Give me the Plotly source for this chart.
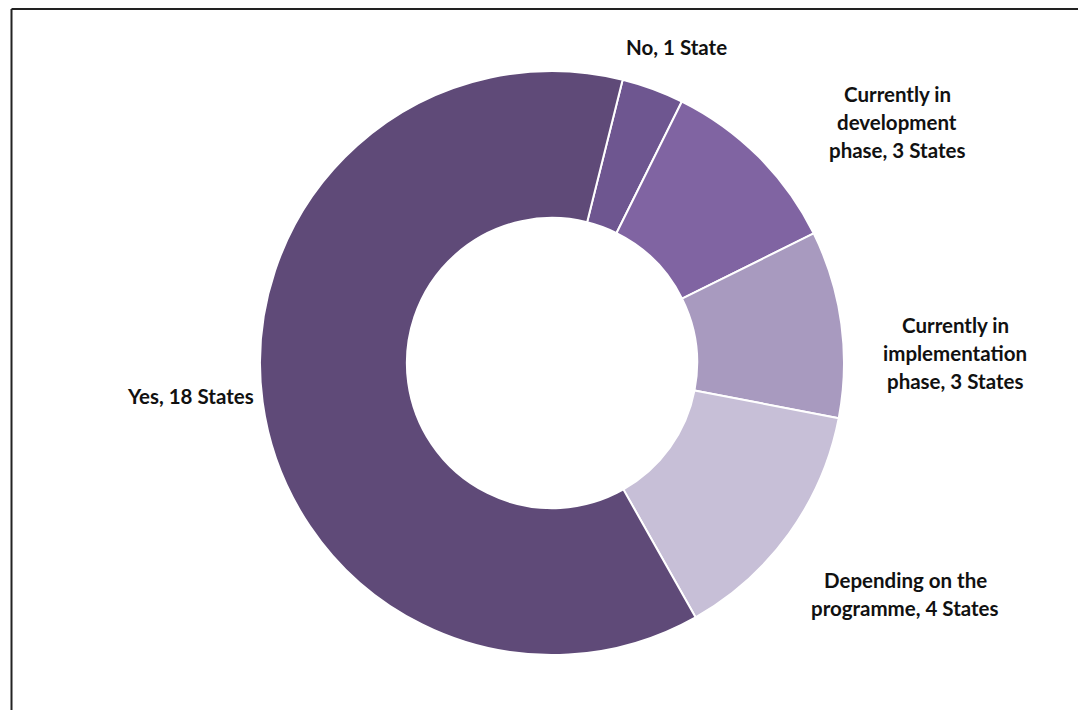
import plotly.graph_objects as go

# Survey responses by number of States
categories = [
    "No, 1 State",
    "Currently in development phase, 3 States",
    "Currently in implementation phase, 3 States",
    "Depending on the programme, 4 States",
    "Yes, 18 States",
]
states = [1, 3, 3, 4, 18]
label_lines = [
    ["No, 1 State"],
    ["Currently in", "development", "phase, 3 States"],
    ["Currently in", "implementation", "phase, 3 States"],
    ["Depending on the", "programme, 4 States"],
    ["Yes, 18 States"],
]
colors = ["#6E5690", "#8064A2", "#A89ABF", "#C7BFD7", "#5F4A78"]

W, H = 1078, 710
cx, cy, r = 552, 363, 292
line_gap = 28

fig = go.Figure(
    go.Pie(
        labels=categories,
        values=states,
        hole=0.497,
        sort=False,
        direction="clockwise",
        rotation=14,
        marker=dict(colors=colors, line=dict(color="white", width=2)),
        textinfo="none",
        hoverinfo="label+value",
        showlegend=False,
        domain=dict(
            x=[(cx - r) / W, (cx + r) / W],
            y=[1 - (cy + r) / H, 1 - (cy - r) / H],
        ),
    )
)

# Label anchor points (pixel centres); each line placed separately
label_pos = [(676, 47), (897, 122), (955, 353), (905, 594), (190, 396)]
for lines, (px, py) in zip(label_lines, label_pos):
    n = len(lines)
    for i, line in enumerate(lines):
        ly = py + (i - (n - 1) / 2) * line_gap
        fig.add_annotation(
            x=px / W, y=1 - ly / H, xref="paper", yref="paper",
            text="<b>" + line + "</b>", showarrow=False,
            xanchor="center", yanchor="middle", align="center",
            font=dict(family="Lato", size=20.5, color="#111111"),
        )

# Chart frame
fig.add_shape(type="line", xref="paper", yref="paper",
              x0=11.5 / W, x1=1.0, y0=1 - 9 / H, y1=1 - 9 / H,
              line=dict(color="#222222", width=2))
fig.add_shape(type="line", xref="paper", yref="paper",
              x0=11.5 / W, x1=11.5 / W, y0=0, y1=1 - 9 / H,
              line=dict(color="#222222", width=2))

fig.update_layout(
    width=W, height=H,
    margin=dict(l=0, r=0, t=0, b=0),
    paper_bgcolor="white", plot_bgcolor="white",
)

fig.write_html("out.html")
